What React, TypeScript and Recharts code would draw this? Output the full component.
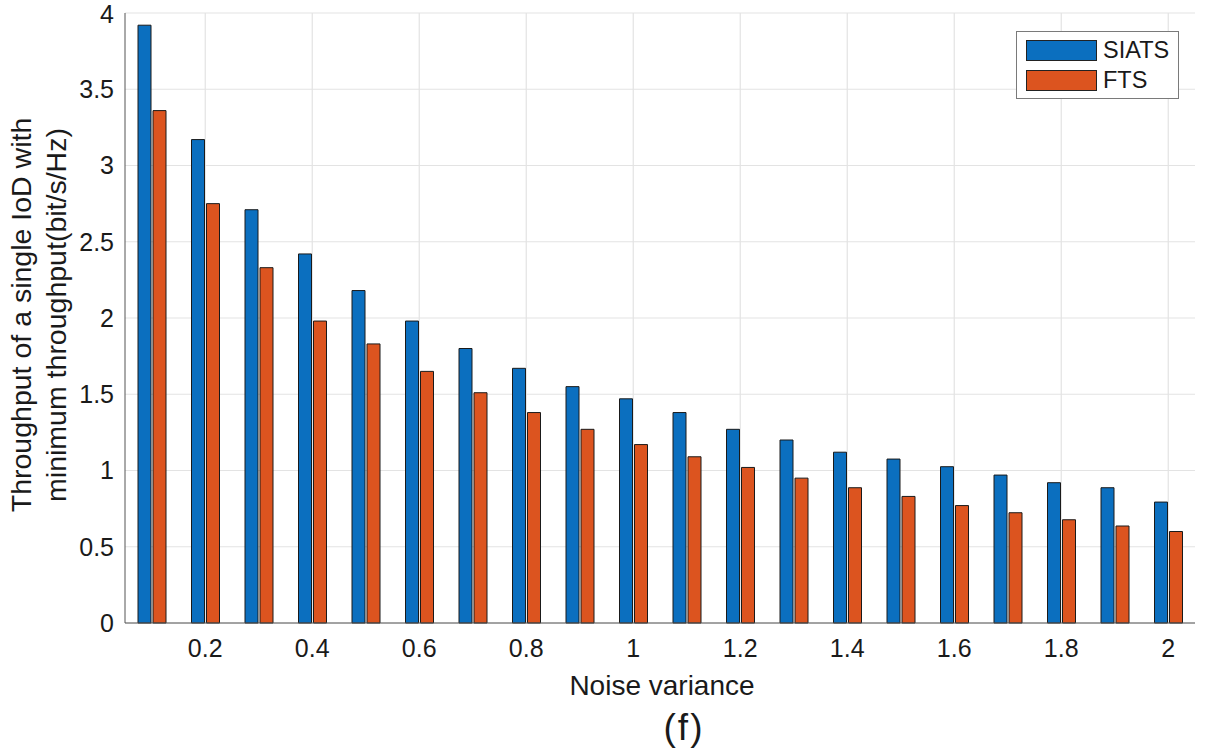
import React from 'react';
import { BarChart, Bar, XAxis, YAxis, CartesianGrid, Legend, Label } from 'recharts';

const categories = ['0.1', '0.2', '0.3', '0.4', '0.5', '0.6', '0.7', '0.8', '0.9', '1', '1.1', '1.2', '1.3', '1.4', '1.5', '1.6', '1.7', '1.8', '1.9', '2'];
const siats = [3.92, 3.17, 2.71, 2.42, 2.18, 1.98, 1.8, 1.67, 1.55, 1.47, 1.38, 1.27, 1.2, 1.12, 1.075, 1.025, 0.97, 0.92, 0.887, 0.793];
const fts = [3.36, 2.75, 2.33, 1.98, 1.83, 1.65, 1.51, 1.38, 1.27, 1.17, 1.09, 1.02, 0.95, 0.887, 0.83, 0.77, 0.723, 0.677, 0.636, 0.6];
const xTicks = ['0.2', '0.4', '0.6', '0.8', '1', '1.2', '1.4', '1.6', '1.8', '2'];
const yTicks = [0, 0.5, 1, 1.5, 2, 2.5, 3, 3.5, 4];
const seriesNames = ['SIATS', 'FTS'];
const colors = ['#0b6fbf', '#dc541f'];

const data = categories.map((c, i) => ({ x: c, SIATS: siats[i], FTS: fts[i] }));

const FONT = '"Liberation Sans", Arial, Helvetica, sans-serif';
const TEXT = '#1a1a1a';

const LegendBox = () => (
  <div
    style={{
      width: 163,
      height: 68,
      border: '1.5px solid #7a7a7a',
      background: '#fff',
      boxSizing: 'border-box',
      position: 'relative',
      fontFamily: FONT,
      fontSize: 23.5,
      color: TEXT,
    }}
  >
    {seriesNames.map((n, i) => (
      <div key={n}>
        <div
          style={{
            position: 'absolute',
            left: 9,
            top: 8 + i * 30,
            width: 71,
            height: 21,
            background: colors[i],
            border: '1px solid #222',
            boxSizing: 'border-box',
          }}
        />
        <div style={{ position: 'absolute', left: 86, top: 5 + i * 30, lineHeight: '26px' }}>{n}</div>
      </div>
    ))}
  </div>
);

const YLabel = () => (
  <g>
    <text x={31} y={315} transform="rotate(-90 31 315)" textAnchor="middle" fontFamily={FONT} fontSize={28.5} fill={TEXT}>
      Throughput of a single IoD with
    </text>
    <text x={66} y={315} transform="rotate(-90 66 315)" textAnchor="middle" fontFamily={FONT} fontSize={28.5} fill={TEXT}>
      minimum throughput(bit/s/Hz)
    </text>
  </g>
);

const XLabel = () => (
  <g>
    <text x={662} y={695} textAnchor="middle" fontFamily={FONT} fontSize={28} fill={TEXT}>
      Noise variance
    </text>
    <text x={684} y={740} textAnchor="middle" fontFamily={FONT} fontSize={37} fill={TEXT} letterSpacing={2}>
      (f)
    </text>
  </g>
);

export default function App() {
  return (
    <div style={{ position: 'absolute', left: 0, top: 0, width: 1210, height: 756, background: '#fff' }}>
      <BarChart
        width={1210}
        height={756}
        data={data}
        margin={{ top: 13, right: 15, left: 0, bottom: 0 }}
        barSize={13}
        barGap={2}
      >
        <CartesianGrid stroke="#e3e3e3" strokeWidth={1.2} syncWithTicks />
        <XAxis
          dataKey="x"
          type="category"
          ticks={xTicks}
          interval={0}
          height={133}
          tickSize={0}
          tickMargin={16}
          tickLine={false}
          stroke="#555"
          tick={{ fill: TEXT, fontSize: 25, fontFamily: FONT }}
        >
          <Label content={() => <XLabel />} />
        </XAxis>
        <YAxis
          type="number"
          domain={[0, 4]}
          ticks={yTicks}
          width={125}
          tickSize={0}
          tickMargin={11}
          tickLine={false}
          stroke="#555"
          tick={{ fill: TEXT, fontSize: 25, fontFamily: FONT }}
        >
          <Label content={() => <YLabel />} />
        </YAxis>
        <Legend
          layout="vertical"
          align="center"
          verticalAlign="middle"
          content={() => <LegendBox />}
          wrapperStyle={{ position: 'absolute', left: 1016, top: 31, width: 163, height: 68 }}
        />
        <Bar dataKey="SIATS" fill={colors[0]} stroke="#1a1a1a" strokeWidth={1} isAnimationActive={false} />
        <Bar dataKey="FTS" fill={colors[1]} stroke="#1a1a1a" strokeWidth={1} isAnimationActive={false} />
      </BarChart>
    </div>
  );
}
